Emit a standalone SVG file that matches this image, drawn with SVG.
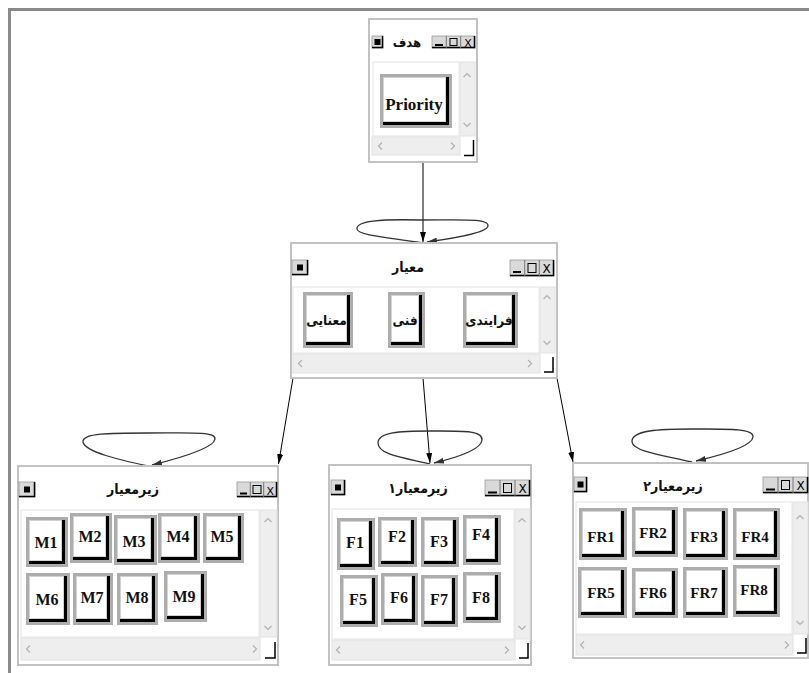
<svg xmlns="http://www.w3.org/2000/svg" width="809" height="673" viewBox="0 0 809 673">
<defs>
<style>
.frame{fill:none;stroke:#8a8a8a;stroke-width:3}
.win{fill:#fff;stroke:#c2c2c2;stroke-width:2}
.cnt{fill:#fff;stroke:#e4e4e4;stroke-width:1}
.sb{fill:#eeeeee;stroke:#e2e2e2;stroke-width:1}
.chev{fill:none;stroke:#b0b0b0;stroke-width:1.2}
.grip{fill:#fff}
.gripl{fill:none;stroke:#000;stroke-width:1.5}
.tbb{fill:#d9d9d9;stroke:#9a9a9a;stroke-width:0.8}
.tbs{fill:none;stroke:#000;stroke-width:1.5}
.tbd{stroke:#777;stroke-width:1}
.dash{stroke:#000;stroke-width:2}
.sq{fill:none;stroke:#000;stroke-width:1}
.xg{font-family:"DejaVu Sans",sans-serif;font-size:11px;text-anchor:middle;fill:#000}
.bo{fill:#adadad}
.bs{fill:#000}
.bf{fill:#fff;stroke:#d2d2d2;stroke-width:1}
.lbl{font-family:"Liberation Serif","Times New Roman","DejaVu Serif",serif;font-weight:bold;font-size:16px;text-anchor:middle;fill:#111}
.fr{font-size:15px}
.fa{font-family:"DejaVu Sans Condensed","DejaVu Sans",sans-serif;font-weight:bold;font-size:13px;text-anchor:middle;fill:#111}
.fb{font-size:13.5px}
.conn{fill:none;stroke:#000;stroke-width:1}
.loop{fill:none;stroke:#333;stroke-width:1.3}
</style>
<marker id="ah" viewBox="0 0 10 6" refX="10" refY="3" markerWidth="10" markerHeight="6" markerUnits="userSpaceOnUse" orient="auto"><path d="M0,0 L10,3 L0,6 z" fill="#000"/></marker>
<marker id="ahl" viewBox="0 0 10 6" refX="10" refY="3" markerWidth="10" markerHeight="6" markerUnits="userSpaceOnUse" orient="auto"><path d="M0,0 L10,3 L0,6 z" fill="#333"/></marker>
</defs>

<rect width="809" height="673" fill="#fff"/>
<path class="frame" d="M9.5,673 V9.5 H809"/>

<g id="connectors">
<path class="conn" marker-end="url(#ah)" d="M423,162 L423,242"/>
<path class="conn" marker-end="url(#ah)" d="M293,378 L278.5,464"/>
<path class="conn" marker-end="url(#ah)" d="M423,378 L430,463"/>
<path class="conn" marker-end="url(#ah)" d="M557,378 L573,462"/>
<path class="loop" marker-end="url(#ahl)" d="M423,243 C395,238 358,236 357,229 C356,221 380,219 420,220 C460,220 489,218 488,226 C487,233 455,238 427,242"/>
<path class="loop" marker-end="url(#ahl)" d="M148,466 C120,460 85,452 83,442 C82,433 110,433 148,433 C185,433 216,431 215,439 C214,448 180,458 152,465"/>
<path class="loop" marker-end="url(#ahl)" d="M430,464 C405,458 378,455 378,443 C378,432 400,431 430,431 C462,431 483,430 482,440 C481,450 455,458 434,463"/>
<path class="loop" marker-end="url(#ahl)" d="M692,462 C668,456 633,452 632,442 C631,430 660,429 692,429 C725,429 754,428 753,437 C752,446 722,455 696,461"/>
</g>

<g id="goal">
<rect class="win" x="369" y="19" width="108" height="143"/>
<rect class="tbb" x="372" y="36" width="11" height="12"/><path class="tbs" d="M382.5,36 V47.5 H372"/><rect x="374.5" y="39" width="6" height="6" fill="#000"/>
<rect class="tbb" x="432" y="36" width="43" height="12"/><path class="tbs" d="M474.5,36 V47.5 H432"/>
<line class="tbd" x1="446.3" y1="36" x2="446.3" y2="48"/><line class="tbd" x1="460.7" y1="36" x2="460.7" y2="48"/>
<line class="dash" x1="435" y1="45" x2="443" y2="45"/><rect class="sq" x="450" y="38.5" width="7" height="7"/><text class="xg" x="468" y="46.5">X</text>
<text class="fa" x="407" y="47">هدف</text>
<rect class="cnt" x="373" y="62" width="86" height="74"/>
<rect class="sb" x="460" y="62" width="15" height="74"/>
<polyline class="chev" points="463.5,77 467,73.5 470.5,77"/><polyline class="chev" points="463.5,123 467,126.5 470.5,123"/>
<rect class="sb" x="372" y="137" width="88" height="18"/>
<polyline class="chev" points="382,142.5 378.5,146 382,149.5"/><polyline class="chev" points="451,142.5 454.5,146 451,149.5"/>
<rect class="grip" x="462" y="139" width="12" height="16"/><path class="gripl" d="M473.5,140 V155.5 H464"/>
<rect class="bo" x="380" y="74" width="72" height="54"/><rect class="bs" x="383" y="77" width="66" height="48"/><rect class="bf" x="383.5" y="77.5" width="62" height="44"/>
<text class="lbl" x="414" y="110" style="font-size:17px">Priority</text>
</g>

<g id="criteria">
<rect class="win" x="291" y="243" width="266" height="135"/>
<rect class="tbb" x="292" y="260" width="16" height="15"/><path class="tbs" d="M307.5,260 V274.5 H292"/><rect x="297" y="264.5" width="6" height="6" fill="#000"/>
<rect class="tbb" x="510" y="260" width="44" height="16"/><path class="tbs" d="M553.5,260 V275.5 H510"/>
<line class="tbd" x1="524.7" y1="260" x2="524.7" y2="276"/><line class="tbd" x1="539.3" y1="260" x2="539.3" y2="276"/>
<line class="dash" x1="513" y1="272" x2="521" y2="272"/><rect class="sq" x="528" y="263.5" width="8" height="9"/><text class="xg" x="546.6" y="273" style="font-size:12px">X</text>
<text class="fa" x="408" y="272" style="font-size:14px">معیار</text>
<rect class="cnt" x="293" y="287" width="246" height="66"/>
<rect class="sb" x="540" y="287" width="15" height="66"/>
<polyline class="chev" points="543.5,299 547,295.5 550.5,299"/><polyline class="chev" points="543.5,341 547,344.5 550.5,341"/>
<rect class="sb" x="293" y="354" width="247" height="19"/>
<polyline class="chev" points="302,360 298.5,363.5 302,367"/><polyline class="chev" points="528,360 531.5,363.5 528,367"/>
<rect class="grip" x="542" y="356" width="12" height="17"/><path class="gripl" d="M553,357 V372 H544"/>
<rect class="bo" x="303" y="292" width="50" height="56"/><rect class="bs" x="306" y="295" width="44" height="50"/><rect class="bf" x="306.5" y="295.5" width="40" height="46"/>
<text class="fa fb" x="326.5" y="325">معنایی</text>
<rect class="bo" x="388" y="292" width="37" height="56"/><rect class="bs" x="391" y="295" width="31" height="50"/><rect class="bf" x="391.5" y="295.5" width="27" height="46"/>
<text class="fa fb" x="405" y="325">فنی</text>
<rect class="bo" x="463" y="292" width="55" height="56"/><rect class="bs" x="466" y="295" width="49" height="50"/><rect class="bf" x="466.5" y="295.5" width="45" height="46"/>
<text class="fa fb" x="489" y="325">فرایندی</text>
</g>

<g id="sub-criteria">
<rect class="win" x="18" y="466" width="260" height="199"/>
<rect class="tbb" x="19" y="482" width="16" height="15"/><path class="tbs" d="M34.5,482 V496.5 H19"/><rect x="24" y="486.5" width="6" height="6" fill="#000"/>
<rect class="tbb" x="237" y="482" width="40" height="15"/><path class="tbs" d="M276.5,482 V496.5 H237"/>
<line class="tbd" x1="250.3" y1="482" x2="250.3" y2="497"/><line class="tbd" x1="263.7" y1="482" x2="263.7" y2="497"/>
<line class="dash" x1="240" y1="493.5" x2="247" y2="493.5"/><rect class="sq" x="253" y="485.5" width="8" height="8"/><text class="xg" x="270.3" y="494.5">X</text>
<text class="fa" x="133" y="494" style="font-size:14px">زیرمعیار</text>
<rect class="cnt" x="21" y="510" width="238" height="127"/>
<rect class="sb" x="260" y="510" width="17" height="127"/>
<polyline class="chev" points="264.5,522 268,518.5 271.5,522"/><polyline class="chev" points="264.5,626 268,629.5 271.5,626"/>
<rect class="sb" x="21" y="638" width="239" height="22"/>
<polyline class="chev" points="30,645.5 26.5,649 30,652.5"/><polyline class="chev" points="253,645.5 256.5,649 253,652.5"/>
<rect class="grip" x="263" y="641" width="13" height="18"/><path class="gripl" d="M275,642 V658 H265"/>
<rect class="bo" x="26" y="517" width="42" height="50"/><rect class="bs" x="29" y="520" width="36" height="44"/><rect class="bf" x="29.5" y="520.5" width="32" height="40"/><text class="lbl" x="46" y="548">M1</text>
<rect class="bo" x="70" y="513" width="42" height="50"/><rect class="bs" x="73" y="516" width="36" height="44"/><rect class="bf" x="73.5" y="516.5" width="32" height="40"/><text class="lbl" x="90" y="542">M2</text>
<rect class="bo" x="114" y="515" width="43" height="50"/><rect class="bs" x="117" y="518" width="37" height="44"/><rect class="bf" x="117.5" y="518.5" width="33" height="40"/><text class="lbl" x="134" y="547">M3</text>
<rect class="bo" x="158" y="513" width="42" height="50"/><rect class="bs" x="161" y="516" width="36" height="44"/><rect class="bf" x="161.5" y="516.5" width="32" height="40"/><text class="lbl" x="178" y="542">M4</text>
<rect class="bo" x="203" y="513" width="41" height="50"/><rect class="bs" x="206" y="516" width="35" height="44"/><rect class="bf" x="206.5" y="516.5" width="31" height="40"/><text class="lbl" x="222" y="542">M5</text>
<rect class="bo" x="26" y="573" width="44" height="52"/><rect class="bs" x="29" y="576" width="38" height="46"/><rect class="bf" x="29.5" y="576.5" width="34" height="42"/><text class="lbl" x="47" y="605">M6</text>
<rect class="bo" x="73" y="573" width="40" height="52"/><rect class="bs" x="76" y="576" width="34" height="46"/><rect class="bf" x="76.5" y="576.5" width="30" height="42"/><text class="lbl" x="92" y="603">M7</text>
<rect class="bo" x="117" y="573" width="41" height="52"/><rect class="bs" x="120" y="576" width="35" height="46"/><rect class="bf" x="120.5" y="576.5" width="31" height="42"/><text class="lbl" x="137" y="603">M8</text>
<rect class="bo" x="164" y="571" width="43" height="51"/><rect class="bs" x="167" y="574" width="37" height="45"/><rect class="bf" x="167.5" y="574.5" width="33" height="41"/><text class="lbl" x="184" y="602">M9</text>
</g>

<g id="sub-criteria-1">
<rect class="win" x="329" y="465" width="202" height="200"/>
<rect class="tbb" x="331" y="480" width="14" height="15"/><path class="tbs" d="M344.5,480 V494.5 H331"/><rect x="335" y="484.5" width="6" height="6" fill="#000"/>
<rect class="tbb" x="485" y="480" width="45" height="16"/><path class="tbs" d="M529.5,480 V495.5 H485"/>
<line class="tbd" x1="500" y1="480" x2="500" y2="496"/><line class="tbd" x1="515" y1="480" x2="515" y2="496"/>
<line class="dash" x1="488" y1="492.5" x2="497" y2="492.5"/><rect class="sq" x="503.5" y="483.5" width="8" height="9"/><text class="xg" x="522.5" y="493" style="font-size:12px">X</text>
<text class="fa" x="418" y="493" style="font-size:14px">زیرمعیار۱</text>
<rect class="cnt" x="332" y="509" width="182" height="130"/>
<rect class="sb" x="515" y="509" width="15" height="130"/>
<polyline class="chev" points="518.5,522 522,518.5 525.5,522"/><polyline class="chev" points="518.5,626 522,629.5 525.5,626"/>
<rect class="sb" x="332" y="640" width="183" height="20"/>
<polyline class="chev" points="340,646.5 336.5,650 340,653.5"/><polyline class="chev" points="505,646.5 508.5,650 505,653.5"/>
<rect class="grip" x="517" y="642" width="12" height="17"/><path class="gripl" d="M528,643 V658 H519"/>
<rect class="bo" x="337" y="518" width="38" height="52"/><rect class="bs" x="340" y="521" width="32" height="46"/><rect class="bf" x="340.5" y="521.5" width="28" height="42"/><text class="lbl" x="355" y="548">F1</text>
<rect class="bo" x="378" y="517" width="39" height="50"/><rect class="bs" x="381" y="520" width="33" height="44"/><rect class="bf" x="381.5" y="520.5" width="29" height="40"/><text class="lbl" x="397" y="542">F2</text>
<rect class="bo" x="421" y="517" width="38" height="50"/><rect class="bs" x="424" y="520" width="32" height="44"/><rect class="bf" x="424.5" y="520.5" width="28" height="40"/><text class="lbl" x="439" y="547">F3</text>
<rect class="bo" x="463" y="515" width="38" height="50"/><rect class="bs" x="466" y="518" width="32" height="44"/><rect class="bf" x="466.5" y="518.5" width="28" height="40"/><text class="lbl" x="481" y="540">F4</text>
<rect class="bo" x="340" y="575" width="38" height="52"/><rect class="bs" x="343" y="578" width="32" height="46"/><rect class="bf" x="343.5" y="578.5" width="28" height="42"/><text class="lbl" x="358" y="605">F5</text>
<rect class="bo" x="381" y="573" width="37" height="52"/><rect class="bs" x="384" y="576" width="31" height="46"/><rect class="bf" x="384.5" y="576.5" width="27" height="42"/><text class="lbl" x="399" y="603">F6</text>
<rect class="bo" x="421" y="575" width="37" height="52"/><rect class="bs" x="424" y="578" width="31" height="46"/><rect class="bf" x="424.5" y="578.5" width="27" height="42"/><text class="lbl" x="439" y="605">F7</text>
<rect class="bo" x="463" y="572" width="38" height="51"/><rect class="bs" x="466" y="575" width="32" height="45"/><rect class="bf" x="466.5" y="575.5" width="28" height="41"/><text class="lbl" x="481" y="603">F8</text>
</g>

<g id="sub-criteria-2">
<rect class="win" x="573" y="463" width="235" height="195"/>
<rect class="tbb" x="574" y="477" width="13" height="15"/><path class="tbs" d="M586.5,477 V491.5 H574"/><rect x="577.5" y="481.5" width="6" height="6" fill="#000"/>
<rect class="tbb" x="763" y="477" width="45" height="16"/><path class="tbs" d="M807.5,477 V492.5 H763"/>
<line class="tbd" x1="778" y1="477" x2="778" y2="493"/><line class="tbd" x1="793" y1="477" x2="793" y2="493"/>
<line class="dash" x1="766" y1="489.5" x2="775" y2="489.5"/><rect class="sq" x="781.5" y="480.5" width="8" height="9"/><text class="xg" x="800.5" y="490" style="font-size:12px">X</text>
<text class="fa" x="673" y="491" style="font-size:14px">زیرمعیار۲</text>
<rect class="cnt" x="576" y="502" width="216" height="132"/>
<rect class="sb" x="793" y="502" width="15" height="132"/>
<polyline class="chev" points="796.5,519 800,515.5 803.5,519"/><polyline class="chev" points="796.5,621 800,624.5 803.5,621"/>
<rect class="sb" x="576" y="635" width="217" height="20"/>
<polyline class="chev" points="584,641.5 580.5,645 584,648.5"/><polyline class="chev" points="785,641.5 788.5,645 785,648.5"/>
<rect class="grip" x="795" y="637" width="12" height="17"/><path class="gripl" d="M806,638 V653 H797"/>
<rect class="bo" x="579" y="508" width="48" height="52"/><rect class="bs" x="582" y="511" width="42" height="46"/><rect class="bf" x="582.5" y="511.5" width="38" height="42"/><text class="lbl fr" x="601" y="542">FR1</text>
<rect class="bo" x="632" y="507" width="46" height="50"/><rect class="bs" x="635" y="510" width="40" height="44"/><rect class="bf" x="635.5" y="510.5" width="36" height="40"/><text class="lbl fr" x="653" y="538">FR2</text>
<rect class="bo" x="683" y="508" width="45" height="52"/><rect class="bs" x="686" y="511" width="39" height="46"/><rect class="bf" x="686.5" y="511.5" width="35" height="42"/><text class="lbl fr" x="704" y="542">FR3</text>
<rect class="bo" x="733" y="508" width="47" height="52"/><rect class="bs" x="736" y="511" width="41" height="46"/><rect class="bf" x="736.5" y="511.5" width="37" height="42"/><text class="lbl fr" x="755" y="542">FR4</text>
<rect class="bo" x="578" y="567" width="49" height="51"/><rect class="bs" x="581" y="570" width="43" height="45"/><rect class="bf" x="581.5" y="570.5" width="39" height="41"/><text class="lbl fr" x="601" y="598">FR5</text>
<rect class="bo" x="632" y="568" width="46" height="50"/><rect class="bs" x="635" y="571" width="40" height="44"/><rect class="bf" x="635.5" y="571.5" width="36" height="40"/><text class="lbl fr" x="653" y="598">FR6</text>
<rect class="bo" x="683" y="567" width="45" height="51"/><rect class="bs" x="686" y="570" width="39" height="45"/><rect class="bf" x="686.5" y="570.5" width="35" height="41"/><text class="lbl fr" x="704" y="598">FR7</text>
<rect class="bo" x="733" y="565" width="47" height="52"/><rect class="bs" x="736" y="568" width="41" height="46"/><rect class="bf" x="736.5" y="568.5" width="37" height="42"/><text class="lbl fr" x="754" y="595">FR8</text>
</g>
</svg>
